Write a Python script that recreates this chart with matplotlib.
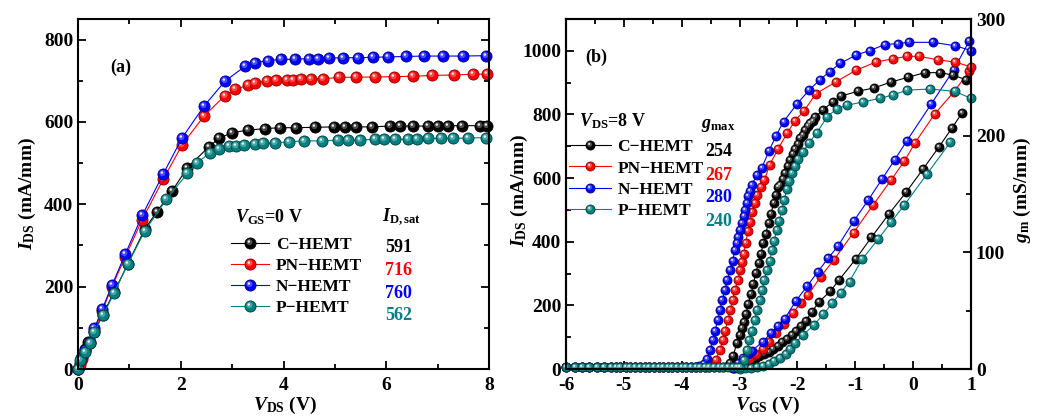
import numpy as np
import matplotlib

matplotlib.use("Agg")
import matplotlib.pyplot as plt
from matplotlib.path import Path
from matplotlib.ticker import MultipleLocator
from matplotlib.legend_handler import HandlerTuple

plt.rcParams["font.family"] = "Liberation Serif"
plt.rcParams["font.weight"] = "bold"
plt.rcParams["mathtext.fontset"] = "custom"
plt.rcParams["mathtext.rm"] = "Liberation Serif:bold"
plt.rcParams["mathtext.it"] = "Liberation Serif:italic:bold"
plt.rcParams["mathtext.bf"] = "Liberation Serif:bold"
plt.rcParams["axes.unicode_minus"] = False

# ---------------- data: panel (a), output curves at VGS = 0 V ----------------
vds_c = [0, 0.03, 0.08, 0.14, 0.2, 0.32, 0.48, 0.7, 0.97, 1.3, 1.53, 1.83, 2.13, 2.55, 2.74, 3.0,
         3.31, 3.64, 3.94, 4.25, 4.61, 4.99, 5.19, 5.42, 5.73, 6.07, 6.27, 6.53, 6.81, 7.0, 7.21,
         7.47, 7.82, 7.97]
id_c = [0, 15, 30, 48, 65, 91, 132, 186, 255, 340, 381, 432, 489, 540, 560, 574,
        580, 584, 586, 586, 587, 588, 588, 588, 588, 590, 590, 590, 590, 591, 591,
        591, 591, 591]

vds_pn = [0, 0.03, 0.08, 0.14, 0.23, 0.32, 0.47, 0.66, 0.92, 1.25, 1.66, 2.03, 2.45, 2.86, 3.05,
          3.31, 3.45, 3.67, 3.86, 4.06, 4.19, 4.34, 4.53, 4.77, 5.08, 5.42, 5.79, 6.16, 6.53,
          6.9, 7.31, 7.69, 7.97]
id_pn = [0, 10, 25, 44, 64, 95, 140, 200, 272, 363, 461, 545, 614, 664, 679,
         689, 695, 699, 701, 701, 703, 704, 705, 705, 708, 709, 709, 710, 711,
         713, 714, 716, 716]

vds_n = [0, 0.065, 0.14, 0.23, 0.32, 0.47, 0.66, 0.92, 1.25, 1.66, 2.03, 2.45, 2.86, 3.25, 3.45,
         3.7, 3.96, 4.22, 4.49, 4.68, 4.89, 5.16, 5.45, 5.75, 6.03, 6.38, 6.73, 7.1, 7.5, 7.95]
id_n = [0, 26, 46, 66, 99, 145, 203, 279, 373, 474, 562, 638, 699, 735, 744,
        749, 752, 752, 754, 754, 755, 756, 756, 757, 758, 759, 760, 760, 760, 761]

vds_p = [0, 0.03, 0.13, 0.23, 0.32, 0.49, 0.7, 0.97, 1.3, 1.72, 2.13, 2.32, 2.56, 2.74, 2.94,
         3.08, 3.23, 3.44, 3.6, 3.83, 4.11, 4.4, 4.74, 5.06, 5.26, 5.49, 5.78, 5.96, 6.17,
         6.43, 6.59, 6.81, 7.06, 7.29, 7.6, 7.95]
id_p = [0, 22, 42, 62, 91, 131, 184, 255, 335, 412, 475, 501, 524, 534, 542,
        542, 544, 546, 548, 549, 552, 554, 554, 556, 556, 556, 558, 558, 558,
        558, 558, 560, 560, 560, 561, 562]

# ---------------- data: panel (b), transfer curves at VDS = 8 V ----------------
# drain current (left axis, mA/mm)
vgs_id_c = [-3.12, -3.05, -2.98, -2.90, -2.82, -2.74, -2.66, -2.58, -2.50, -2.42, -2.34, -2.26,
            -2.18, -2.10, -2.02, -1.94, -1.86, -1.75, -1.62, -1.43, -1.28, -0.99, -0.72, -0.42,
            -0.12, 0.17, 0.45, 0.67, 0.85]
ids_c = [2, 6, 11, 18, 25, 32, 40, 47, 55, 64, 73, 84,
         95, 107, 120, 134, 150, 180, 212, 245, 280, 346, 414, 487,
         556, 628, 699, 757, 806]

vgs_id_pn = [-3.08, -2.95, -2.83, -2.72, -2.60, -2.50, -2.37, -2.23, -2.08, -1.94, -1.81, -1.60,
             -1.37, -1.03, -0.69, -0.38, -0.15, 0.03, 0.37, 0.70, 0.97]
ids_pn = [3, 15, 32, 47, 62, 84, 112, 142, 176, 207, 234, 290,
          343, 429, 516, 594, 654, 710, 801, 870, 936]

vgs_id_n = [-3.12, -3.02, -2.94, -2.86, -2.78, -2.60, -2.46, -2.33, -2.22, -2.03, -1.83, -1.65,
            -1.47, -1.30, -1.03, -0.78, -0.54, -0.32, -0.11, 0.31, 0.70, 0.97]
ids_n = [3, 18, 35, 48, 58, 86, 112, 135, 158, 213, 261, 305,
         348, 386, 464, 530, 596, 657, 717, 832, 940, 1031]

vgs_id_p = [-3.0, -2.9, -2.8, -2.7, -2.6, -2.5, -2.4, -2.3, -2.2, -2.12, -2.04, -1.9,
            -1.72, -1.55, -1.40, -1.25, -1.10, -0.88, -0.60, -0.38, -0.15, 0.24, 0.64]
ids_p = [1, 2, 4, 7, 11, 17, 25, 35, 48, 64, 81, 107,
         138, 172, 207, 240, 275, 345, 409, 462, 516, 613, 712]

# off-state points shared by all devices
vgs_off = [-6.0, -5.84, -5.72, -5.61, -5.46, -5.35, -5.23, -5.14, -5.06, -4.97, -4.89, -4.80,
           -4.72, -4.64, -4.56, -4.48, -4.40, -4.32, -4.24, -4.16, -4.08, -4.0, -3.92, -3.84]
gm_off = [2, 2, 2, 2, 2, 2, 2, 2, 2, 2, 2, 2,
          2, 2, 2, 2, 2, 2, 2, 2, 2, 2, 2, 2]

# transconductance (right axis, mS/mm)
vgs_gm_c = [-3.76, -3.68, -3.60, -3.52, -3.44, -3.36, -3.28, -3.20,
            -3.16, -3.11, -3.05, -3.0, -2.96, -2.93, -2.89, -2.85, -2.80, -2.76, -2.72, -2.67,
            -2.63, -2.59, -2.55, -2.50, -2.46, -2.41, -2.37, -2.33, -2.30, -2.25, -2.21, -2.16,
            -2.12, -2.08, -2.04, -1.99, -1.95, -1.91, -1.87, -1.82, -1.78, -1.73, -1.69, -1.56,
            -1.39, -1.24, -0.96, -0.67, -0.38, -0.09, 0.20, 0.46, 0.69, 0.91]
gm_c = [2, 2, 2, 2, 2, 2, 2, 3,
        5, 11, 22, 29, 35, 40, 47, 56, 64, 73, 82, 91,
        99, 108, 116, 125, 133, 142, 149, 156, 158, 163, 168, 174,
        179, 184, 189, 193, 198, 201, 205, 208, 211, 213, 216, 222,
        229, 234, 238, 241, 246, 250, 254, 254, 252, 248]

vgs_gm_pn = [-3.76, -3.68, -3.60,
             -3.55, -3.48, -3.41, -3.34, -3.29, -3.25, -3.20, -3.16, -3.12, -3.08,
             -3.03, -2.99, -2.96, -2.93, -2.89, -2.86, -2.82, -2.79, -2.74, -2.70,
             -2.63, -2.57, -2.48, -2.33, -2.18, -2.04, -1.89, -1.68, -1.34, -0.99,
             -0.65, -0.34, -0.10, 0.10, 0.43, 0.73, 1.0]
gm_pn = [2, 2, 2,
         2, 3, 8, 16, 25, 33, 42, 51, 59, 68,
         76, 85, 92, 99, 108, 118, 126, 135, 142, 149,
         156, 162, 175, 189, 202, 213, 221, 236, 246, 256,
         263, 266, 268, 268, 265, 263, 259]

vgs_gm_n = [-3.77, -3.70, -3.62, -3.56, -3.51, -3.46, -3.42, -3.38, -3.34, -3.30,
            -3.25, -3.21, -3.16, -3.12, -3.08, -3.05, -3.02, -2.99, -2.96, -2.93,
            -2.90, -2.87, -2.85, -2.82, -2.79, -2.70, -2.62, -2.49, -2.37, -2.24,
            -2.01, -1.80, -1.61, -1.44, -1.26, -0.99, -0.75, -0.49, -0.27, -0.07,
            0.35, 0.73, 1.0]
gm_n = [2, 3, 4, 9, 16, 25, 33, 42, 51, 59,
        68, 76, 85, 93, 102, 108, 113, 119, 125, 131,
        136, 142, 148, 153, 158, 166, 172, 187, 200, 212,
        227, 239, 248, 255, 262, 269, 273, 278, 279, 280,
        280, 277, 273]

vgs_gm_p = [-3.76, -3.68, -3.60, -3.52, -3.44, -3.36, -3.28, -3.20, -3.12, -3.04,
            -2.99, -2.93, -2.87, -2.83, -2.79, -2.74, -2.70, -2.65, -2.61, -2.57,
            -2.53, -2.48, -2.44, -2.40, -2.36, -2.31, -2.27, -2.23, -2.18, -2.14,
            -2.10, -2.04, -1.99, -1.90, -1.80, -1.67, -1.49, -1.32, -1.15, -0.86,
            -0.57, -0.34, -0.11, 0.29, 0.72, 1.0]
gm_p = [2, 2, 2, 2, 2, 2, 2, 2, 2, 2,
        2, 8, 16, 25, 33, 42, 51, 59, 68, 76,
        85, 93, 102, 110, 119, 127, 136, 145, 154, 161,
        168, 174, 180, 186, 194, 202, 216, 223, 226, 229,
        232, 235, 239, 240, 238, 232]

labels = ["C\u2212HEMT", "PN\u2212HEMT", "N\u2212HEMT", "P\u2212HEMT"]
colors = ["#000000", "#ff0000", "#0000ff", "#008080"]
edges = ["#000000", "#8c0000", "#00008c", "#003c3c"]
id_sat = ["591", "716", "760", "562"]
g_max = ["254", "267", "280", "240"]


def offset_disc(cx, cy, r):
    """Circle marker placed off-centre (two dummy MOVETOs pin the scale)."""
    circ = Path.circle((cx, cy), r)
    verts = np.vstack([[[-1, -1], [1, 1]], circ.vertices])
    codes = np.concatenate([[Path.MOVETO, Path.MOVETO], circ.codes])
    return Path(verts, codes)


GLOW = offset_disc(-0.2, 0.25, 0.55)
SPOT = offset_disc(-0.3, 0.35, 0.22)


def balls(ax, x, y, color, edge, ms):
    ln, = ax.plot(x, y, "-", color=color, lw=0.8, marker="o", ms=ms, mfc=color,
                  mec=edge, mew=0.6, clip_on=False)
    g, = ax.plot(x, y, ls="none", marker=GLOW, ms=ms, mfc="white", mec="none",
                 alpha=0.3, clip_on=False)
    s, = ax.plot(x, y, ls="none", marker=SPOT, ms=ms, mfc="white", mec="none",
                 alpha=0.9, clip_on=False)
    return (ln, g, s)


def style_axis(ax):
    for sp in ax.spines.values():
        sp.set_linewidth(1.5)
    ax.tick_params(which="both", direction="in", labelsize=14, width=1.3)
    ax.tick_params(which="major", length=6)
    ax.tick_params(which="minor", length=3.5)
    ax.tick_params(axis="x", pad=6)


W, H = 1051, 417
fig = plt.figure(figsize=(W / 100, H / 100), dpi=100)


def ftext(x, y, s, **kw):
    fig.text(x / W, 1 - y / H, s, **kw)


# ---------------- panel (a) ----------------
ax1 = fig.add_axes([78 / W, 48 / H, 411 / W, 350 / H])
series_a = [(vds_c, id_c), (vds_pn, id_pn), (vds_n, id_n), (vds_p, id_p)]
handles_a = []
for (x, y), c, e in zip(series_a, colors, edges):
    handles_a.append(balls(ax1, x, y, c, e, 8))
ax1.set_xlim(0, 8)
ax1.set_ylim(0, 850)
ax1.xaxis.set_major_locator(MultipleLocator(2))
ax1.xaxis.set_minor_locator(MultipleLocator(1))
ax1.yaxis.set_major_locator(MultipleLocator(200))
ax1.yaxis.set_minor_locator(MultipleLocator(100))
style_axis(ax1)
ax1.tick_params(which="both", top=True, right=True)

tuple_handler = {tuple: HandlerTuple(ndivide=1, pad=0)}
ax1.legend(handles_a, labels, handler_map=tuple_handler,
           loc="upper left", bbox_to_anchor=(231 / W, 1 - 237 / H),
           bbox_transform=fig.transFigure, frameon=False, borderpad=0,
           borderaxespad=0, handlelength=2.2, handletextpad=0.4,
           labelspacing=0.27, prop={"size": 12.5, "weight": "bold"})

ftext(110, 67, "(a)", fontsize=13, va="center")
ftext(235, 217, r"$V_{\mathrm{GS}}$=0 V", fontsize=13, va="center")
ftext(382, 217, r"$I_{\mathrm{D,sat}}$", fontsize=13, va="center")
for i, (v, c) in enumerate(zip(id_sat, colors)):
    ftext(385, 248 + i * 22.5, v, fontsize=13, color=c, va="center")

ftext(27, 193, r"$I_{\mathrm{DS}}$ (mA/mm)", fontsize=14, rotation=90,
      ha="center", va="center")
ftext(285, 405, r"$V_{\mathrm{DS}}$ (V)", fontsize=14, ha="center", va="center")

# ---------------- panel (b) ----------------
ax2 = fig.add_axes([566 / W, 48 / H, 405 / W, 350 / H])
ax2r = ax2.twinx()

series_id = [(vgs_id_c, ids_c), (vgs_id_pn, ids_pn), (vgs_id_n, ids_n), (vgs_id_p, ids_p)]
series_gm = [(vgs_gm_c, gm_c), (vgs_gm_pn, gm_pn), (vgs_gm_n, gm_n), (vgs_gm_p, gm_p)]
handles_b = []
for (x, y), c, e in zip(series_id, colors, edges):
    balls(ax2, x, y, c, e, 6.5)
for (x, y), c, e in zip(series_gm, colors, edges):
    xs = list(vgs_off) + list(x)
    ys = list(gm_off) + list(y)
    handles_b.append(balls(ax2r, xs, ys, c, e, 6.5))

ax2.set_xlim(-6, 1)
ax2.set_ylim(0, 1100)
ax2r.set_ylim(0, 300)
ax2.xaxis.set_major_locator(MultipleLocator(1))
ax2.xaxis.set_minor_locator(MultipleLocator(0.5))
ax2.yaxis.set_major_locator(MultipleLocator(200))
ax2.yaxis.set_minor_locator(MultipleLocator(100))
ax2r.yaxis.set_major_locator(MultipleLocator(100))
ax2r.yaxis.set_minor_locator(MultipleLocator(50))
style_axis(ax2)
style_axis(ax2r)
ax2.tick_params(which="both", top=True, right=False)

ax2r.legend(handles_b, labels, handler_map=tuple_handler,
            loc="upper left", bbox_to_anchor=(569 / W, 1 - 139 / H),
            bbox_transform=fig.transFigure, frameon=False, borderpad=0,
            borderaxespad=0, handlelength=2.4, handletextpad=0.4,
            labelspacing=0.3, prop={"size": 12.5, "weight": "bold"})

ftext(585, 57, "(b)", fontsize=13, va="center")
ftext(579, 121, r"$V_{\mathrm{DS}}$=8 V", fontsize=13, va="center")
ftext(701, 126, r"$g_{\mathrm{max}}$", fontsize=13, va="center")
for i, (v, c) in enumerate(zip(g_max, colors)):
    ftext(705, 152 + i * 23, v, fontsize=13, color=c, va="center")

ftext(519, 190, r"$I_{\mathrm{DS}}$ (mA/mm)", fontsize=14, rotation=90,
      ha="center", va="center")
ftext(1022, 190, r"$g_{\mathrm{m}}$ (mS/mm)", fontsize=14, rotation=90,
      ha="center", va="center")
ftext(767, 405, r"$V_{\mathrm{GS}}$ (V)", fontsize=14, ha="center", va="center")

fig.savefig("out.png", dpi=100)
plt.close(fig)
